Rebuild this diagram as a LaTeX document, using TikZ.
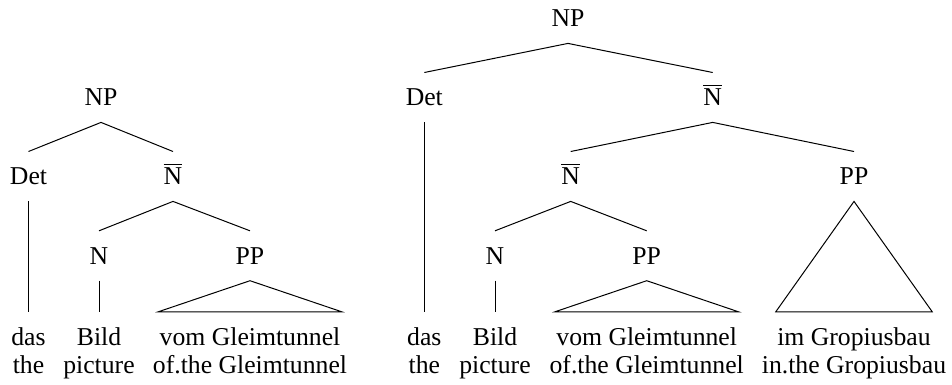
\documentclass[tikz,border=0pt]{standalone}
\usepackage{fontspec}
\setmainfont{Liberation Serif}
\newcommand{\Nbar}{\setbox0\hbox{N}\vbox{\hrule width \wd0 height 1.1pt\kern 3pt\box0}}
\begin{document}
\begin{tikzpicture}[x=1pt,y=-1pt,
  lab/.style={anchor=base,text height=16.5pt,text depth=0pt,inner ysep=16.7pt,inner xsep=1.5pt,outer sep=0pt,font=\fontsize{25.7}{30}\selectfont},
  edge/.style={draw=black,line width=1pt},
  tri/.style={draw=black,line width=1pt,line join=miter}]
\useasboundingbox (0,0) rectangle (952,384);
% ---------- left tree ----------
\node[lab] (np1) at (101,105.7) {NP};
\node[lab] (det1) at (28.5,184.7) {Det};
\node[lab] (nb1) at (173,184.7) {\Nbar};
\node[lab] (n1) at (99,264) {N};
\node[lab] (pp1) at (250,264) {PP};
\node[lab] (das1) at (28.5,345) {das};
\node[lab] (bild1) at (99,345) {Bild};
\node[lab] (vom1) at (250,345) {vom Gleimtunnel};
\node[lab] (the1) at (28.5,373) {the};
\node[lab] (pic1) at (99,373) {picture};
\node[lab] (of1) at (250,373) {of.the Gleimtunnel};
\draw[edge] (det1.north) -- (np1.south) -- (nb1.north);
\draw[edge] (n1.north) -- (nb1.south) -- (pp1.north);
\draw[edge] (det1.south) -- (das1.north);
\draw[edge] (n1.south) -- (bild1.north);
\draw[tri] (pp1.south) -- (vom1.north east) -- (vom1.north west) -- cycle;
% ---------- right tree ----------
\node[lab] (np2) at (568,26.7) {NP};
\node[lab] (det2) at (424.3,105.7) {Det};
\node[lab] (nb2) at (712.7,105.7) {\Nbar};
\node[lab] (nb3) at (570.7,184.7) {\Nbar};
\node[lab] (pp3) at (854,184.7) {PP};
\node[lab] (n2) at (495,264) {N};
\node[lab] (pp2) at (646.7,264) {PP};
\node[lab] (das2) at (424.3,345) {das};
\node[lab] (bild2) at (495,345) {Bild};
\node[lab] (vom2) at (646.7,345) {vom Gleimtunnel};
\node[lab] (im2) at (854,345) {im Gropiusbau};
\node[lab] (the2) at (424.3,373) {the};
\node[lab] (pic2) at (495,373) {picture};
\node[lab] (of2) at (646.7,373) {of.the Gleimtunnel};
\node[lab] (in2) at (854,373) {in.the Gropiusbau};
\draw[edge] (det2.north) -- (np2.south) -- (nb2.north);
\draw[edge] (nb3.north) -- (nb2.south) -- (pp3.north);
\draw[edge] (n2.north) -- (nb3.south) -- (pp2.north);
\draw[edge] (det2.south) -- (das2.north);
\draw[edge] (n2.south) -- (bild2.north);
\draw[tri] (pp2.south) -- (vom2.north east) -- (vom2.north west) -- cycle;
\draw[tri] (pp3.south) -- (im2.north east) -- (im2.north west) -- cycle;
\end{tikzpicture}
\end{document}
